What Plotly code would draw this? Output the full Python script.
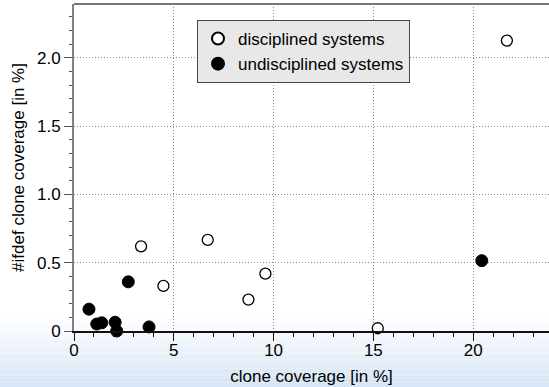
import plotly.graph_objects as go

# data
disc_x = [3.36, 4.48, 6.70, 8.74, 9.59, 15.22, 21.69]
disc_y = [0.62, 0.33, 0.667, 0.23, 0.42, 0.02, 2.127]
undisc_x = [0.75, 1.14, 1.39, 2.06, 2.14, 2.72, 3.76, 20.43]
undisc_y = [0.16, 0.051, 0.06, 0.064, 0.0, 0.36, 0.03, 0.515]

y_tickvals = [0, 0.5, 1.0, 1.5, 2.0]
y_ticktext = ["0", "0.5", "1.0", "1.5", "2.0"]
x_tickvals = [0, 5, 10, 15, 20]
x_ticktext = ["0", "5", "10", "15", "20"]

FONT = "Liberation Sans, Arial, Helvetica, sans-serif"
FS = 17
W, H = 549, 387
ML, MR, MT, MB = 74, 0, 4, 56
PW, PH = W - ML - MR, H - MT - MB

fig = go.Figure()
fig.add_trace(go.Scatter(
    x=disc_x, y=disc_y, mode="markers", name="disciplined systems",
    marker=dict(size=11, color="white", line=dict(color="black", width=1.3)),
    cliponaxis=False,
))
fig.add_trace(go.Scatter(
    x=undisc_x, y=undisc_y, mode="markers", name="undisciplined systems",
    marker=dict(size=12, color="black", line=dict(color="black", width=1)),
    cliponaxis=False,
))

# background gradient at the bottom of the page
shapes = []
n = 30
g0, g1 = 318, H
for i in range(n):
    t = (i + 0.5) / n
    r = int(255 + (212 - 255) * t)
    g = int(255 + (228 - 255) * t)
    b = int(255 + (244 - 255) * t)
    top_px = g0 + (g1 - g0) * i / n
    bot_px = g0 + (g1 - g0) * (i + 1) / n
    shapes.append(dict(type="rect", xref="paper", yref="paper",
                       x0=-ML / PW, x1=1.0,
                       y0=(H - bot_px - MB) / PH, y1=(H - top_px - MB) / PH,
                       fillcolor=f"rgb({r},{g},{b})", line=dict(width=0), layer="below"))
# top border line
shapes.append(dict(type="line", xref="paper", yref="paper", x0=0, x1=1, y0=1, y1=1,
                   line=dict(color="#777777", width=2)))

fig.update_layout(
    width=W, height=H,
    margin=dict(l=ML, r=MR, t=MT, b=MB),
    paper_bgcolor="white",
    plot_bgcolor="rgba(0,0,0,0)",
    font=dict(family=FONT, size=FS, color="black"),
    shapes=shapes,
    showlegend=True,
    legend=dict(
        x=(197 - ML) / PW, y=(H - MB - 20) / PH,
        xanchor="left", yanchor="top",
        bgcolor="#e8e8e8", bordercolor="#444444", borderwidth=1,
        font=dict(family=FONT, size=FS, color="black"),
        tracegroupgap=0, itemsizing="constant",
    ),
    xaxis=dict(
        range=[0, 23.8], showline=True, linecolor="#111111", linewidth=1.5,
        ticks="outside", ticklen=8, tickcolor="#111111", tickwidth=1,
        tickvals=x_tickvals, ticktext=x_ticktext, ticklabelstandoff=-5,
        showgrid=True, gridcolor="#8a8a8a", griddash="1px,2px", gridwidth=1,
        minor=dict(dtick=1, ticks="outside", ticklen=4, tickcolor="#111111", showgrid=False),
        zeroline=False,
        title=dict(text="clone coverage [in %]", standoff=11, font=dict(size=FS)),
    ),
    yaxis=dict(
        range=[0, 2.395], showline=True, linecolor="#808080", linewidth=2,
        ticks="outside", ticklen=8, tickcolor="#555555", tickwidth=1,
        tickvals=y_tickvals, ticktext=y_ticktext,
        showgrid=True, gridcolor="#8a8a8a", griddash="1px,2px", gridwidth=1,
        minor=dict(dtick=0.1, ticks="outside", ticklen=3, tickcolor="#555555", showgrid=False),
        zeroline=False,
        title=dict(text="#ifdef clone coverage [in %]", standoff=8, font=dict(size=FS)),
    ),
)

fig.write_html("out.html", config={"displayModeBar": False},
               post_script="document.body.style.margin='0';document.body.style.overflow='hidden';")
